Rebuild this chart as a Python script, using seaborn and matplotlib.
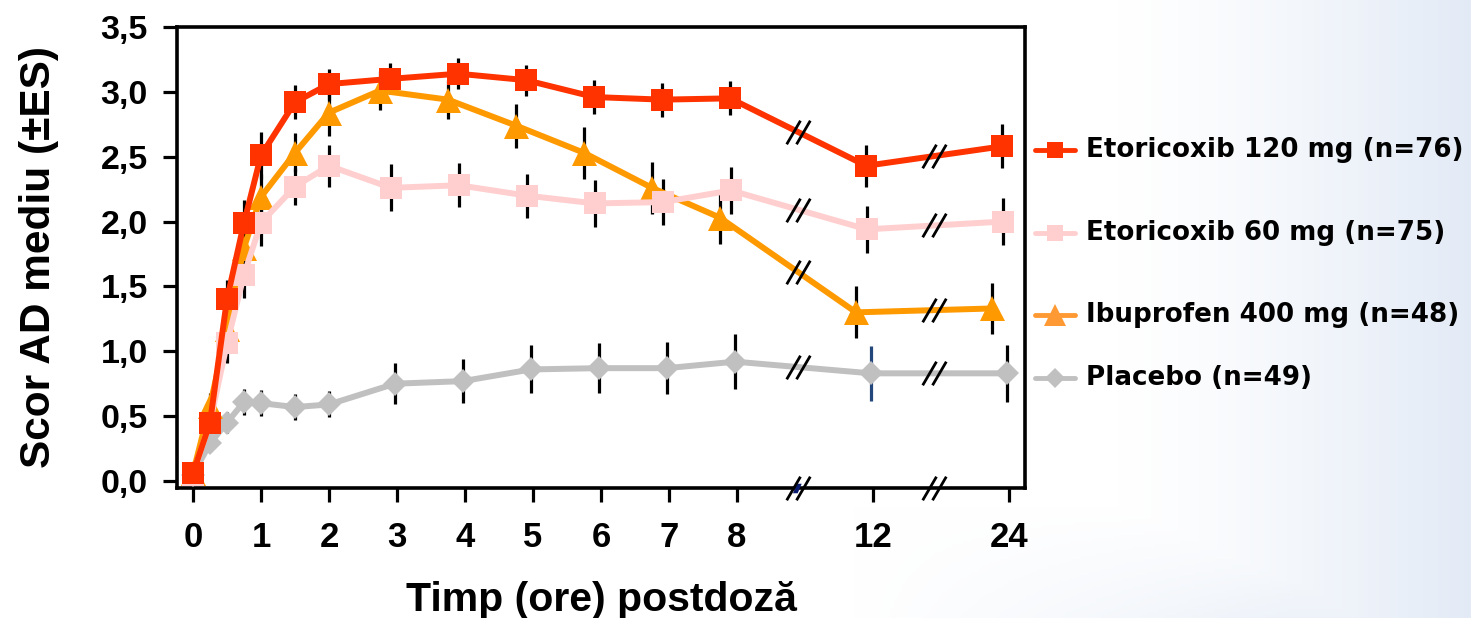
import numpy as np
import pandas as pd
import matplotlib
matplotlib.use("Agg")
import matplotlib.pyplot as plt
import matplotlib.transforms as mtransforms
from matplotlib.lines import Line2D
from matplotlib.path import Path
import seaborn as sns

# ---------------- data ----------------
hours = [0, 0.25, 0.5, 0.75, 1, 1.5, 2, 3, 4, 5, 6, 7, 8, 12, 24]
tick_hours = [0, 1, 2, 3, 4, 5, 6, 7, 8, 12, 24]
tick_labels = ["0", "1", "2", "3", "4", "5", "6", "7", "8", "12", "24"]
y_ticks = [0.0, 0.5, 1.0, 1.5, 2.0, 2.5, 3.0, 3.5]
y_tick_labels = ["0,0", "0,5", "1,0", "1,5", "2,0", "2,5", "3,0", "3,5"]

series_names = ["Etoricoxib 120 mg (n=76)", "Etoricoxib 60 mg (n=75)",
                "Ibuprofen 400 mg (n=48)", "Placebo (n=49)"]

etori120 = [0.06, 0.45, 1.40, 1.99, 2.51, 2.92, 3.06, 3.10, 3.14, 3.09, 2.96, 2.94, 2.95, 2.43, 2.58]
etori120_se = [0.0, 0.10, 0.15, 0.18, 0.18, 0.13, 0.12, 0.12, 0.12, 0.12, 0.13, 0.13, 0.13, 0.16, 0.17]

etori60 = [0.05, 0.45, 1.06, 1.59, 1.99, 2.27, 2.43, 2.26, 2.28, 2.20, 2.14, 2.15, 2.24, 1.94, 2.00]
etori60_se = [0.0, 0.10, 0.15, 0.18, 0.18, 0.14, 0.16, 0.18, 0.17, 0.17, 0.18, 0.18, 0.18, 0.18, 0.18]

ibuprofen = [0.06, 0.58, 1.17, 1.80, 2.19, 2.53, 2.84, 3.01, 2.94, 2.74, 2.53, 2.26, 2.03, 1.30, 1.33]
ibuprofen_se = [0.0, 0.10, 0.15, 0.18, 0.18, 0.15, 0.18, 0.15, 0.15, 0.17, 0.20, 0.20, 0.20, 0.20, 0.20]

placebo = [0.05, 0.29, 0.45, 0.61, 0.60, 0.57, 0.59, 0.75, 0.77, 0.86, 0.87, 0.87, 0.92, 0.83, 0.83]
placebo_se = [0.0, 0.05, 0.08, 0.10, 0.10, 0.10, 0.10, 0.16, 0.17, 0.185, 0.19, 0.20, 0.21, 0.21, 0.22]

# ---------------- style ----------------
sns.set_theme(style="white")
plt.rcParams["font.family"] = ["Liberation Sans", "DejaVu Sans"]
plt.rcParams["font.weight"] = "bold"

W, H, DPI = 1471, 618, 100
fig = plt.figure(figsize=(W / DPI, H / DPI), dpi=DPI)
fig.patch.set_facecolor("white")

# soft slide-like background on the right
bg = fig.add_axes([0, 0, 1, 1], zorder=-10)
bg.axis("off")
gx = np.linspace(0, 1, 400)[None, :]
gy = np.linspace(0, 1, 200)[:, None]
t = np.clip((gx - 0.76) / 0.24, 0, 1) ** 1.3
t2 = np.clip((gy - 0.82) / 0.18, 0, 1) * np.clip((gx - 0.58) / 0.30, 0, 1) * 0.6
tt = np.maximum(t, t2) * np.ones_like(gy)
tint = np.array([0.89, 0.92, 0.965])
img = (1 - tt[..., None]) * 1.0 + tt[..., None] * tint
bg.imshow(img, aspect="auto", extent=[0, 1, 0, 1], origin="upper")
bg.set_xlim(0, 1)
bg.set_ylim(0, 1)

ax = fig.add_axes([177 / W, 1 - 488 / H, (1025 - 177) / W, (488 - 27) / H])
ax.set_facecolor("white")


def axis_pos(h):
    # broken time axis: 0..8 linear, then 12 and 24 each two units further
    return np.interp(h, [0, 8, 12, 24], [0, 8, 10, 12])


pos = axis_pos(np.array(hours, dtype=float))

specs = [
    # name, values, se, color, marker, markersize, x shift (late points), zorder
    (series_names[3], placebo, placebo_se, "#C0C0C0", "D", 12, -0.03, 3),
    (series_names[2], ibuprofen, ibuprofen_se, "#FF9900", "^", 18, -0.25, 4),
    (series_names[1], etori60, etori60_se, "#FFCFCF", "s", 15.5, -0.09, 5),
    (series_names[0], etori120, etori120_se, "#FF3300", "s", 15.5, -0.10, 6),
]

slash = Path([(-12, -12), (2, 12), (-2, -12), (12, 12)],
             [Path.MOVETO, Path.LINETO, Path.MOVETO, Path.LINETO])
break_x = [8.9, 10.9]

for name, vals, se, color, marker, ms, shift, z in specs:
    vals = np.array(vals)
    se = np.array(se)
    xp = pos + np.where(np.array(hours) >= 3, shift, 0.0)
    df = pd.DataFrame({"pos": xp, "score": vals})
    sns.lineplot(data=df, x="pos", y="score", ax=ax, color=color, marker=marker,
                 markersize=ms, markeredgewidth=0, linewidth=4.3, legend=False,
                 estimator=None, sort=False, zorder=z)
    bar_colors = ["black"] * len(vals)
    if name.startswith("Placebo"):
        bar_colors[hours.index(12)] = "#23477A"
    ax.vlines(xp, vals - se, vals + se, colors=bar_colors, linewidth=2.3, zorder=2.5)
    by = np.interp(break_x, xp, vals)
    ax.plot(break_x, by, linestyle="none", marker=slash, markersize=17,
            markeredgecolor="black", markerfacecolor="none", markeredgewidth=2.0, zorder=10)

# axis-break marks on the time axis
btrans = mtransforms.blended_transform_factory(ax.transData, ax.transAxes)
navy = Path([(-7, -6), (-2, 6), (4, 6), (-1, -6), (-7, -6)],
            [Path.MOVETO, Path.LINETO, Path.LINETO, Path.LINETO, Path.CLOSEPOLY])
ax.plot([break_x[0]], [0], transform=btrans, linestyle="none", marker=navy, markersize=8,
        markerfacecolor="#0A1A6E", markeredgewidth=0, clip_on=False, zorder=11)
ax.plot(break_x, [0, 0], transform=btrans, linestyle="none", marker=slash, markersize=17,
        markeredgecolor="black", markerfacecolor="none", markeredgewidth=2.0,
        clip_on=False, zorder=12)

# axes
ax.set_xlim(-0.235, 12.235)
ax.set_ylim(-0.054, 3.5)
ax.set_xticks(axis_pos(np.array(tick_hours, dtype=float)))
ax.set_xticklabels(tick_labels, fontsize=25, fontweight="bold")
ax.set_yticks(y_ticks)
ax.set_yticklabels(y_tick_labels, fontsize=24.5, fontweight="bold")
ax.tick_params(axis="both", direction="out", length=10, width=2.3, color="black",
               labelcolor="black")
ax.tick_params(axis="y", pad=11, left=True)
ax.tick_params(axis="x", pad=14, bottom=True)
for sp in ax.spines.values():
    sp.set_visible(True)
    sp.set_color("black")
    sp.set_linewidth(2.6)
ax.grid(False)

ax.set_xlabel("Timp (ore) postdoză", fontsize=29.5, fontweight="bold", color="black", labelpad=19)
ax.set_ylabel("Scor AD mediu (±ES)", fontsize=30.5, fontweight="bold", color="black", labelpad=30)

# legend drawn beside the plot
leg_rows = [150, 233, 315, 378]
leg_colors = ["#FF3300", "#FFCFCF", "#FF9933", "#C0C0C0"]
leg_markers = ["s", "s", "^", "D"]
leg_ms = [12, 12, 16, 10]
for i, name in enumerate(series_names):
    yf = 1 - leg_rows[i] / H
    fig.add_artist(Line2D([1035 / W, 1075 / W], [yf, yf], transform=fig.transFigure,
                          color=leg_colors[i], linewidth=3.5))
    fig.add_artist(Line2D([1055 / W], [yf], transform=fig.transFigure, linestyle="none",
                          marker=leg_markers[i], markersize=leg_ms[i],
                          markerfacecolor=leg_colors[i], markeredgewidth=0))
    fig.text(1086 / W, yf, name, fontsize=18.8, fontweight="bold", color="black",
             family=["DejaVu Sans"], va="center", ha="left")

fig.savefig("out.png", dpi=DPI)
